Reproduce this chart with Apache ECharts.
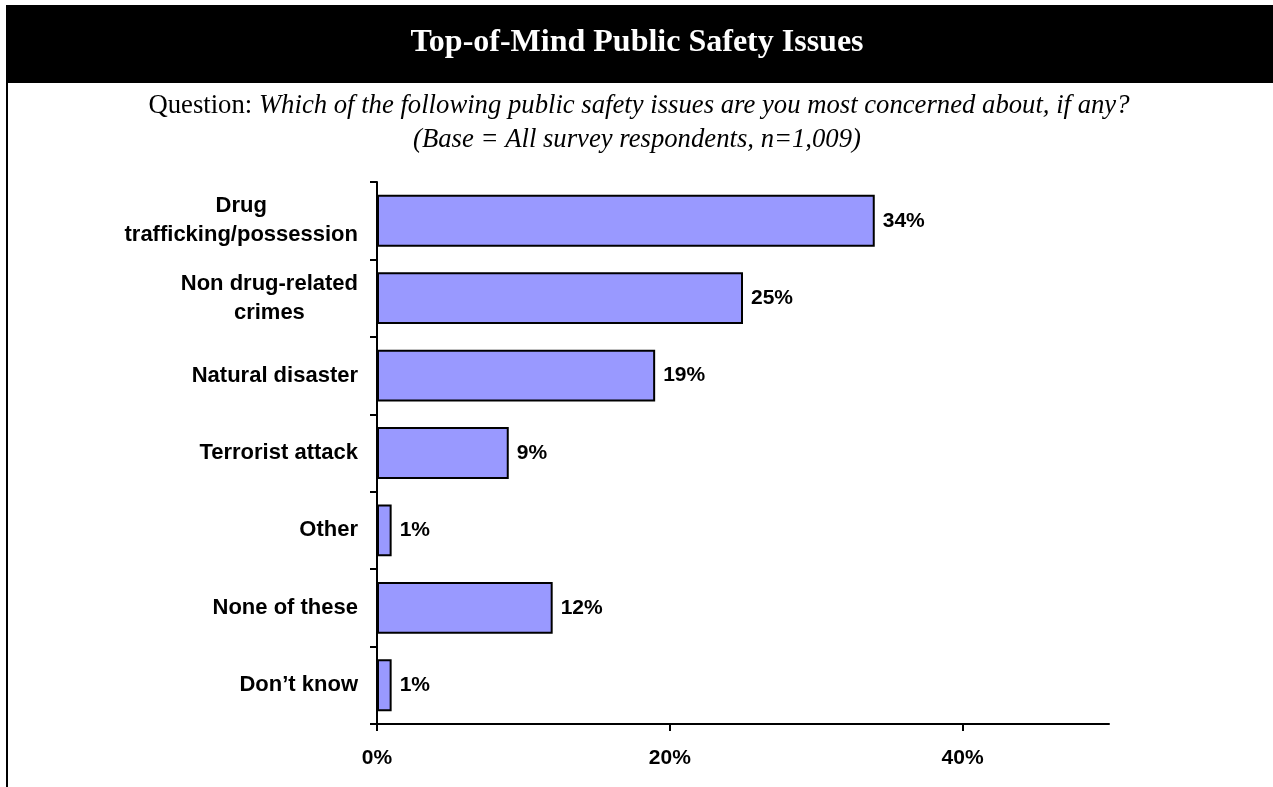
<!DOCTYPE html>
<html>
<head>
<meta charset="utf-8">
<script src="https://cdn.jsdelivr.net/npm/echarts@6/dist/echarts.min.js"></script>
<style>
html,body{margin:0;padding:0;background:#fff;}
#chart{width:1273px;height:787px;}
</style>
</head>
<body>
<div id="chart"></div>
<script>
const categories = ['Drug\ntrafficking/possession', 'Non drug-related\ncrimes', 'Natural disaster', 'Terrorist attack', 'Other', 'None of these', 'Don\u2019t know'];
const values = [34, 25, 19, 9, 1, 12, 1];
const tickValues = [0, 20, 40];
const titleText = 'Top-of-Mind Public Safety Issues';
const questionLabel = 'Question: ';
const questionText = 'Which of the following public safety issues are you most concerned about, if any?';
const baseText = '(Base = All survey respondents, n=1,009)';

const chart = echarts.init(document.getElementById('chart'), null, {renderer: 'canvas'});
const serif = '"Liberation Serif","Times New Roman",serif';
const sans = '"Liberation Sans",Arial,sans-serif';

chart.setOption({
  backgroundColor: '#fff',
  animation: false,
  graphic: [
    {type: 'rect', shape: {x: 6, y: 5, width: 1267, height: 78}, style: {fill: '#000'}, z: 0},
    {type: 'line', shape: {x1: 7, y1: 83, x2: 7, y2: 787}, style: {stroke: '#000', lineWidth: 2}},
    {type: 'text', x: 637, y: 43, style: {text: titleText, fill: '#fff', font: 'bold 32px ' + serif, align: 'center', verticalAlign: 'middle'}, z: 10},
    {type: 'text', x: 639, y: 106, style: {
      text: '{n|' + questionLabel + '}{i|' + questionText + '}',
      align: 'center', verticalAlign: 'middle',
      rich: {
        n: {font: '26.7px ' + serif, fill: '#000'},
        i: {font: 'italic 26.7px ' + serif, fill: '#000'}
      }
    }},
    {type: 'text', x: 637, y: 140, style: {text: baseText, font: 'italic 26.7px ' + serif, fill: '#000', align: 'center', verticalAlign: 'middle'}}
  ],
  grid: {left: 377, top: 182, right: 164, bottom: 63, containLabel: false},
  xAxis: {
    type: 'value', min: 0, max: 50,
    axisLine: {show: true, lineStyle: {color: '#000', width: 2}},
    axisTick: {show: true, length: 7, lineStyle: {color: '#000', width: 2}, customValues: tickValues},
    axisLabel: {customValues: tickValues, formatter: v => v + '%', color: '#000', fontFamily: sans, fontWeight: 'bold', fontSize: 21, margin: 24},
    splitLine: {show: false}
  },
  yAxis: {
    type: 'category', data: categories, inverse: true,
    axisLine: {show: true, lineStyle: {color: '#000', width: 2}},
    axisTick: {show: true, length: 7, lineStyle: {color: '#000', width: 2}},
    axisLabel: {
      color: '#000', margin: 19,
      formatter: v => v.split('\n').map(s => '{c|' + s + '}').join('\n'),
      rich: {c: {align: 'center', fontFamily: sans, fontWeight: 'bold', fontSize: 22, lineHeight: 29, color: '#000'}}
    }
  },
  series: [{
    type: 'bar', data: values, barCategoryGap: '33%',
    itemStyle: {color: '#9999FF', borderColor: '#000', borderWidth: 2},
    label: {show: true, position: 'right', distance: 8, formatter: p => p.value + '%', color: '#000', fontFamily: sans, fontWeight: 'bold', fontSize: 21}
  }]
});
</script>
</body>
</html>
